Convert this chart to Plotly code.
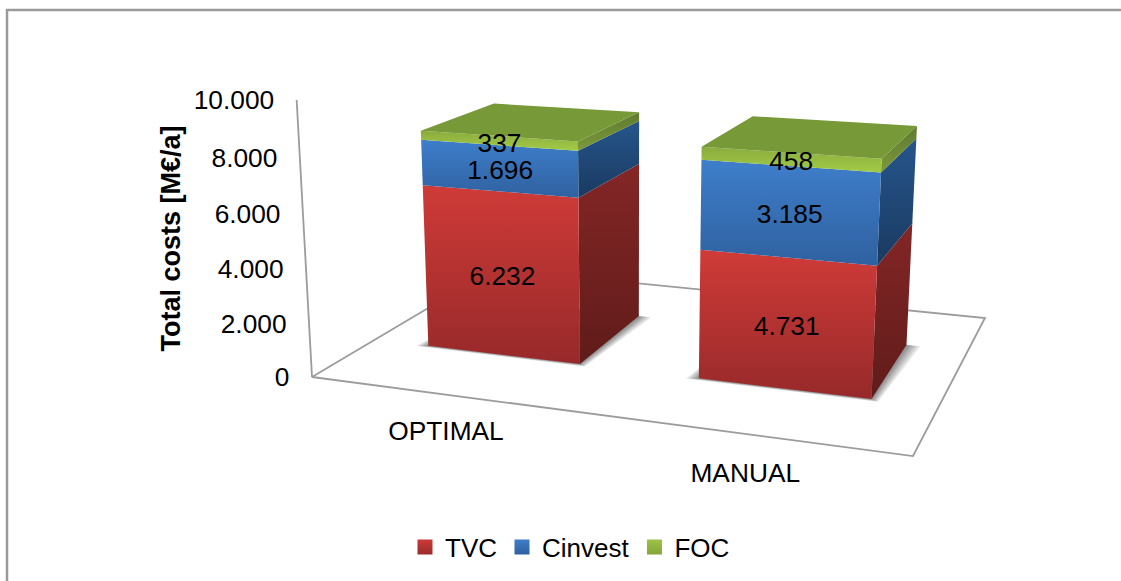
import plotly.graph_objects as go

# Chart values
CATEGORIES = ["OPTIMAL", "MANUAL"]
TVC = [6232, 4731]
CINVEST = [1696, 3185]
FOC = [337, 458]
Z_TICKS = [0, 2000, 4000, 6000, 8000, 10000]
Z_TICK_LABELS = ["0", "2.000", "4.000", "6.000", "8.000", "10.000"]
VALUE_LABELS = {"TVC": ["6.232", "4.731"], "Cinvest": ["1.696", "3.185"], "FOC": ["337", "458"]}
Z_MAX = 10000

# Perspective camera: floor coordinates (u, v) in 0..1, height as a share of Z_MAX
CAM_X = (481.4, 302.1, -29.0, 312.0)
CAM_Y = (19.3, -42.6, -281.6, 377.0)
CAM_W = (-0.131, 0.2432, -0.046, 1.0)

BAR_WIDTH = 0.288
BAR_V = (0.30, 0.71)
CATEGORY_LABEL_U = [0.32, 0.79]
CATEGORY_LABEL_V = -0.2

FONT = "Liberation Sans"
FONT_SIZE = 26.3
TEXT_DROP = 3.5
AXIS_COLOR = "#9c9c9c"

SERIES = [
    dict(name="TVC", values=TVC,
         front=("#cf3b38", "#97292a"), side=("#842626", "#5f1c1a"), swatch=("#cc3a38", "#9a2b2a")),
    dict(name="Cinvest", values=CINVEST,
         front=("#3e7ecb", "#2f619f"), side=("#26558c", "#1a3a60"), swatch=("#3e7ecb", "#2f619f")),
    dict(name="FOC", values=FOC,
         front=("#8aab3d", "#a2cb47"), side=("#5f7a30", "#7c9a3a"), swatch=("#9dc346", "#84a63a")),
]
TOP_COLOR = "#789937"


def project(u, v, z):
    """World point to plot coordinates through the perspective camera."""
    h = z / Z_MAX
    w = CAM_W[0] * u + CAM_W[1] * v + CAM_W[2] * h + CAM_W[3]
    x = (CAM_X[0] * u + CAM_X[1] * v + CAM_X[2] * h + CAM_X[3]) / w
    y = (CAM_Y[0] * u + CAM_Y[1] * v + CAM_Y[2] * h + CAM_Y[3]) / w
    return x, y


def face(points, color=None, gradient=None):
    xy = [project(*p) for p in points]
    xs = [p[0] for p in xy] + [xy[0][0]]
    ys = [p[1] for p in xy] + [xy[0][1]]
    kw = dict(x=xs, y=ys, mode="lines", fill="toself", showlegend=False, hoverinfo="skip",
              line=dict(width=0, color="rgba(0,0,0,0)"))
    if gradient:
        kw["fillgradient"] = dict(type="vertical", colorscale=[[0, gradient[0]], [1, gradient[1]]],
                                  start=min(ys), stop=max(ys))
    else:
        kw["fillcolor"] = color
    return go.Scatter(**kw)


def axis_line(points):
    xy = [project(*p) for p in points]
    return go.Scatter(x=[p[0] for p in xy], y=[p[1] for p in xy], mode="lines",
                      line=dict(color=AXIS_COLOR, width=1.8), showlegend=False, hoverinfo="skip")


fig = go.Figure()

# Floor outline and vertical axis
fig.add_trace(axis_line([(0, 1, 0), (0, 0, 0), (1, 0, 0), (1, 1, 0), (0, 1, 0)]))
fig.add_trace(axis_line([(0, 0, 0), (0, 0, Z_MAX)]))

n = len(CATEGORIES)
for i in range(n):
    uc = (i + 0.5) / n
    u0, u1 = uc - BAR_WIDTH / 2, uc + BAR_WIDTH / 2
    v0, v1 = BAR_V

    # Soft contact shadow on the floor
    for e in (0.024, 0.019, 0.014, 0.010, 0.006, 0.003):
        fig.add_trace(face([(u0 - e * 0.8, v0 - e * 0.5, 0), (u1 + e * 0.5, v0 - e * 0.5, 0),
                            (u1 + e, v1, 0), (u0, v1, 0)], color="rgba(70,70,70,0.14)"))

    # Stacked blocks, drawn bottom up
    base = 0
    for s in SERIES:
        top = base + s["values"][i]
        fig.add_trace(face([(u1, v0, base), (u1, v1, base), (u1, v1, top), (u1, v0, top)],
                           gradient=s["side"]))
        fig.add_trace(face([(u0, v0, top), (u1, v0, top), (u1, v0, base), (u0, v0, base)],
                           gradient=s["front"]))
        base = top
    fig.add_trace(face([(u0, v0, base), (u1, v0, base), (u1, v1, base), (u0, v1, base)],
                       color=TOP_COLOR))

# Value labels centred on each block's front face
for s in SERIES:
    lx, ly = [], []
    for i in range(n):
        base = sum(t["values"][i] for t in SERIES[:SERIES.index(s)])
        px, py = project((i + 0.5) / n, BAR_V[0], base + s["values"][i] / 2)
        lx.append(px + 1.5)
        ly.append(py + TEXT_DROP + 1)
    fig.add_trace(go.Scatter(x=lx, y=ly, text=VALUE_LABELS[s["name"]], mode="text",
                             textposition="middle center", showlegend=False, hoverinfo="skip",
                             textfont=dict(family=FONT, size=FONT_SIZE, color="#000000")))

# Vertical axis tick labels
tick_xy = [project(0, 0, z) for z in Z_TICKS]
fig.add_trace(go.Scatter(x=[p[0] - 22.5 for p in tick_xy], y=[p[1] + TEXT_DROP - 1 for p in tick_xy],
                         text=Z_TICK_LABELS, mode="text", textposition="middle left",
                         showlegend=False, hoverinfo="skip",
                         textfont=dict(family=FONT, size=FONT_SIZE, color="#000000")))

# Category labels in front of the floor
cat_xy = [project(u, CATEGORY_LABEL_V, 0) for u in CATEGORY_LABEL_U]
fig.add_trace(go.Scatter(x=[p[0] for p in cat_xy], y=[p[1] + TEXT_DROP - 1 for p in cat_xy], text=CATEGORIES,
                         mode="text", textposition="middle center", showlegend=False, hoverinfo="skip",
                         textfont=dict(family=FONT, size=FONT_SIZE, color="#000000")))

# Legend entries
for s in SERIES:
    fig.add_trace(go.Scatter(x=[None], y=[None], mode="markers", name=s["name"],
                             marker=dict(symbol="square", size=15, color=s["swatch"][0],
                                         gradient=dict(type="vertical", color=s["swatch"][1]))))

fig.update_layout(
    width=1121, height=581, autosize=False,
    margin=dict(l=0, r=0, t=0, b=0),
    paper_bgcolor="#ffffff", plot_bgcolor="#ffffff",
    font=dict(family=FONT, size=FONT_SIZE, color="#000000"),
    xaxis=dict(range=[0, 1121], visible=False, fixedrange=True),
    yaxis=dict(range=[581, 0], visible=False, fixedrange=True),
    legend=dict(orientation="h", x=570 / 1121, xanchor="center", y=34 / 581, yanchor="middle",
                font=dict(family=FONT, size=26), itemwidth=30, bgcolor="rgba(0,0,0,0)"),
    shapes=[
        dict(type="line", x0=7, x1=7, y0=9, y1=581, line=dict(color="#9a9a9a", width=2.5)),
        dict(type="line", x0=6, x1=1121, y0=10, y1=10, line=dict(color="#9a9a9a", width=2.5)),
    ],
    annotations=[
        dict(text="<b>Total costs [M€/a]</b>", x=170.5, y=239, xref="x", yref="y", textangle=-90,
             showarrow=False, font=dict(family=FONT, size=27, color="#000000")),
    ],
)

fig.write_html("out.html")
